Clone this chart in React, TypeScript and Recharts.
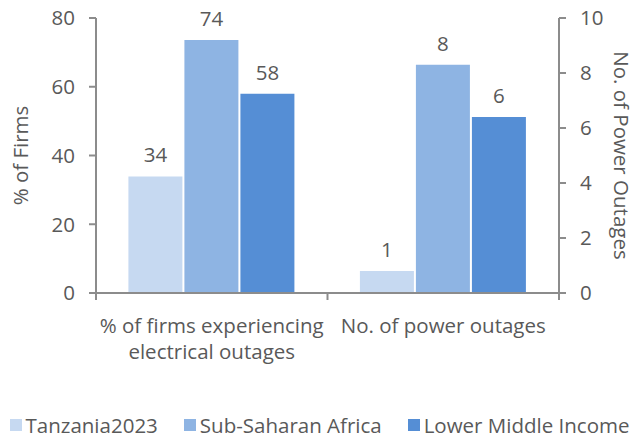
import { Bar, BarChart, LabelList, XAxis, YAxis } from "recharts";

const CATEGORIES = ["% of firms experiencing electrical outages", "No. of power outages"];
const CATEGORY_LINES = [["% of firms experiencing", "electrical outages"], ["No. of power outages"]];
const SERIES = ["Tanzania2023", "Sub-Saharan Africa", "Lower Middle Income"];
const COLORS = ["#C6D9F1", "#8EB4E3", "#558ED5"];
const PCT_FIRMS = [33.9, 73.6, 58.0]; // left axis, first category
const OUTAGES = [0.8, 8.3, 6.4]; // right axis, second category
const LEFT_TICKS = [0, 20, 40, 60, 80];
const RIGHT_TICKS = [0, 2, 4, 6, 8, 10];

const FONT = "'Open Sans', sans-serif";
const TEXT = "#595959";
const AXIS = "#8c8c8c";
const FS = 20.5;

// one row per category; the other axis' series stays empty on that row
const data = CATEGORIES.map((name, ci) => {
  const row: Record<string, string | number | null> = { name };
  SERIES.forEach((_, si) => {
    row[`p${si}`] = ci === 0 ? PCT_FIRMS[si] : null;
    row[`o${si}`] = ci === 1 ? OUTAGES[si] : null;
  });
  return row;
});

const fmt = (v: unknown) => (v == null ? "" : String(Math.round(Number(v))));

function CategoryTick(props: any) {
  const { x, y, payload, index, visibleTicksCount } = props;
  const half = payload.offset ?? 0;
  const lines = CATEGORY_LINES[index] ?? [String(payload.value)];
  return (
    <g>
      <line x1={x - half} x2={x - half} y1={y} y2={y + 7} stroke={AXIS} strokeWidth={2} />
      {index === visibleTicksCount - 1 && (
        <line x1={x + half} x2={x + half} y1={y} y2={y + 7} stroke={AXIS} strokeWidth={2} />
      )}
      {lines.map((l, i) => (
        <text key={i} x={x} y={y + 40 + i * 26} textAnchor="middle" fill={TEXT} fontSize={FS} fontFamily={FONT}>
          {l}
        </text>
      ))}
    </g>
  );
}

function SideLabel({ viewBox, value, side }: any) {
  const { x, y, height } = viewBox;
  const cx = side === "left" ? x + 20 : x + 63;
  const cy = y + height / 2;
  return (
    <text
      x={cx}
      y={cy}
      transform={`rotate(${side === "left" ? -90 : 90} ${cx} ${cy})`}
      textAnchor="middle"
      dominantBaseline="central"
      fill={TEXT}
      fontSize={FS}
      fontFamily={FONT}
    >
      {value}
    </text>
  );
}

export default function App() {
  const tickStyle = { fill: TEXT, fontSize: FS, fontFamily: FONT };
  return (
    <div style={{ position: "absolute", left: 0, top: 0, width: 639, height: 442, background: "#fff", fontFamily: FONT }}>
      <BarChart
        width={639}
        height={442}
        data={data}
        margin={{ top: 18, right: 0, bottom: 69, left: 0 }}
        barCategoryGap="14%"
        barGap={2}
      >
        <XAxis xAxisId="out" dataKey="name" hide height={0} />
        <XAxis
          xAxisId="pct"
          dataKey="name"
          height={80}
          axisLine={{ stroke: AXIS, strokeWidth: 2 }}
          tickLine={false}
          tickSize={0}
          tickMargin={0}
          interval={0}
          tick={<CategoryTick />}
        />
        <YAxis
          yAxisId="left"
          width={96}
          domain={[0, 80]}
          ticks={LEFT_TICKS}
          axisLine={{ stroke: AXIS, strokeWidth: 2 }}
          tickLine={{ stroke: AXIS, strokeWidth: 2 }}
          tickSize={7}
          tickMargin={14}
          tick={tickStyle}
          label={<SideLabel value="% of Firms" side="left" />}
        />
        <YAxis
          yAxisId="right"
          orientation="right"
          width={80}
          domain={[0, 10]}
          ticks={RIGHT_TICKS}
          axisLine={{ stroke: AXIS, strokeWidth: 2 }}
          tickLine={{ stroke: AXIS, strokeWidth: 2 }}
          tickSize={7}
          tickMargin={14}
          tick={tickStyle}
          label={<SideLabel value="No. of Power Outages" side="right" />}
        />
        {SERIES.map((s, i) => (
          <Bar key={`p${i}`} name={s} dataKey={`p${i}`} xAxisId="pct" yAxisId="left" fill={COLORS[i]} isAnimationActive={false}>
            <LabelList dataKey={`p${i}`} position="top" offset={14} formatter={fmt} fill={TEXT} fontSize={FS} fontFamily={FONT} />
          </Bar>
        ))}
        {SERIES.map((s, i) => (
          <Bar key={`o${i}`} name={s} dataKey={`o${i}`} xAxisId="out" yAxisId="right" fill={COLORS[i]} legendType="none" isAnimationActive={false}>
            <LabelList dataKey={`o${i}`} position="top" offset={14} formatter={fmt} fill={TEXT} fontSize={FS} fontFamily={FONT} />
          </Bar>
        ))}
      </BarChart>
      <div
        style={{
          position: "absolute",
          left: 0,
          top: 413,
          width: 639,
          display: "flex",
          justifyContent: "center",
          gap: 26,
          fontSize: FS,
          color: TEXT,
          lineHeight: "24px",
          whiteSpace: "nowrap",
        }}
      >
        {SERIES.map((s, i) => (
          <div key={s} style={{ display: "flex", alignItems: "center" }}>
            <span style={{ width: 12, height: 12, background: COLORS[i], marginRight: 4, display: "inline-block" }} />
            {s}
          </div>
        ))}
      </div>
    </div>
  );
}
